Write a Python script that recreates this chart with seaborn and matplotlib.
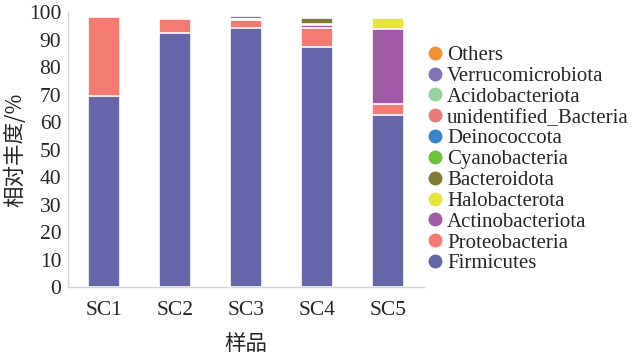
import numpy as np
import pandas as pd
import seaborn as sns
import matplotlib.pyplot as plt

samples = ['SC1', 'SC2', 'SC3', 'SC4', 'SC5']

# stacking order, bottom to top
taxa = ['Firmicutes', 'Proteobacteria', 'Actinobacteriota', 'Halobacterota',
        'Bacteroidota', 'Cyanobacteria', 'Deinococcota', 'unidentified_Bacteria',
        'Acidobacteriota', 'Verrucomicrobiota', 'Others']

firmicutes = [69.5, 92.5, 94.2, 87.3, 62.8]
proteobacteria = [29.0, 5.3, 2.9, 7.2, 3.8]
actinobacteriota = [0.0, 0.1, 0.7, 1.0, 27.2]
halobacterota = [0.0, 0.0, 0.0, 0.4, 4.3]
bacteroidota = [0.0, 0.0, 0.0, 2.2, 0.0]
cyanobacteria = [0.0, 0.0, 0.0, 0.0, 0.0]
deinococcota = [0.0, 0.0, 0.0, 0.0, 0.0]
unidentified_bacteria = [0.0, 0.0, 0.0, 0.0, 0.0]
acidobacteriota = [0.0, 0.0, 0.0, 0.0, 0.0]
verrucomicrobiota = [0.0, 0.0, 0.9, 0.0, 0.0]
others = [0.0, 0.0, 0.0, 0.0, 0.0]

colors = ['#6667ab', '#f37b71', '#a15ba6', '#e8e43a', '#7f7b35', '#6bc435',
          '#3a85c9', '#e87878', '#96d3a0', '#8273b9', '#f5922f']

values = [firmicutes, proteobacteria, actinobacteriota, halobacterota,
          bacteroidota, cyanobacteria, deinococcota, unidentified_bacteria,
          acidobacteriota, verrucomicrobiota, others]

df = pd.DataFrame(np.array(values).T, columns=taxa)
df['sample'] = samples
cum = df[taxa].cumsum(axis=1)
cum['sample'] = samples

sns.set_style('white')
plt.rcParams['font.family'] = ['Liberation Serif', 'Noto Sans CJK SC']

fig, ax = plt.subplots(figsize=(6.37, 3.56), dpi=100)
fig.subplots_adjust(left=0.107, right=0.665, top=0.965, bottom=0.193)

# draw cumulative totals from top layer down so each layer covers the ones above
for name, col in reversed(list(zip(taxa, colors))):
    sns.barplot(data=cum, x='sample', y=name, color=col, width=0.45,
                edgecolor='white', linewidth=1.2, saturation=1, ax=ax)

ax.set_ylim(0, 100)
ax.set_yticks(range(0, 101, 10))
ax.set_xlim(-0.5, 4.5)
ax.tick_params(axis='both', length=0, labelsize=15.5)
ax.tick_params(axis='x', pad=10)
ax.tick_params(axis='y', pad=5)
ax.set_ylabel('相对丰度/%', fontsize=15.5, family='Noto Sans CJK SC', labelpad=2)
ax.set_xlabel('样品', fontsize=15.5, family='Noto Sans CJK SC', labelpad=9)
for s in ['top', 'right']:
    ax.spines[s].set_visible(False)
for s in ['left', 'bottom']:
    ax.spines[s].set_color('#d0d4e4')
    ax.spines[s].set_linewidth(1)

handles = [plt.Line2D([], [], marker='o', linestyle='', markersize=9,
                      markerfacecolor=c, markeredgecolor=c) for c in colors]
leg = ax.legend(handles[::-1], taxa[::-1], loc='center left',
                bbox_to_anchor=(0.975, 0.465), frameon=False, fontsize=15,
                handletextpad=0.05, labelspacing=0.06, handlelength=1.1,
                borderaxespad=0.0)

fig.savefig('out.png', dpi=100)
